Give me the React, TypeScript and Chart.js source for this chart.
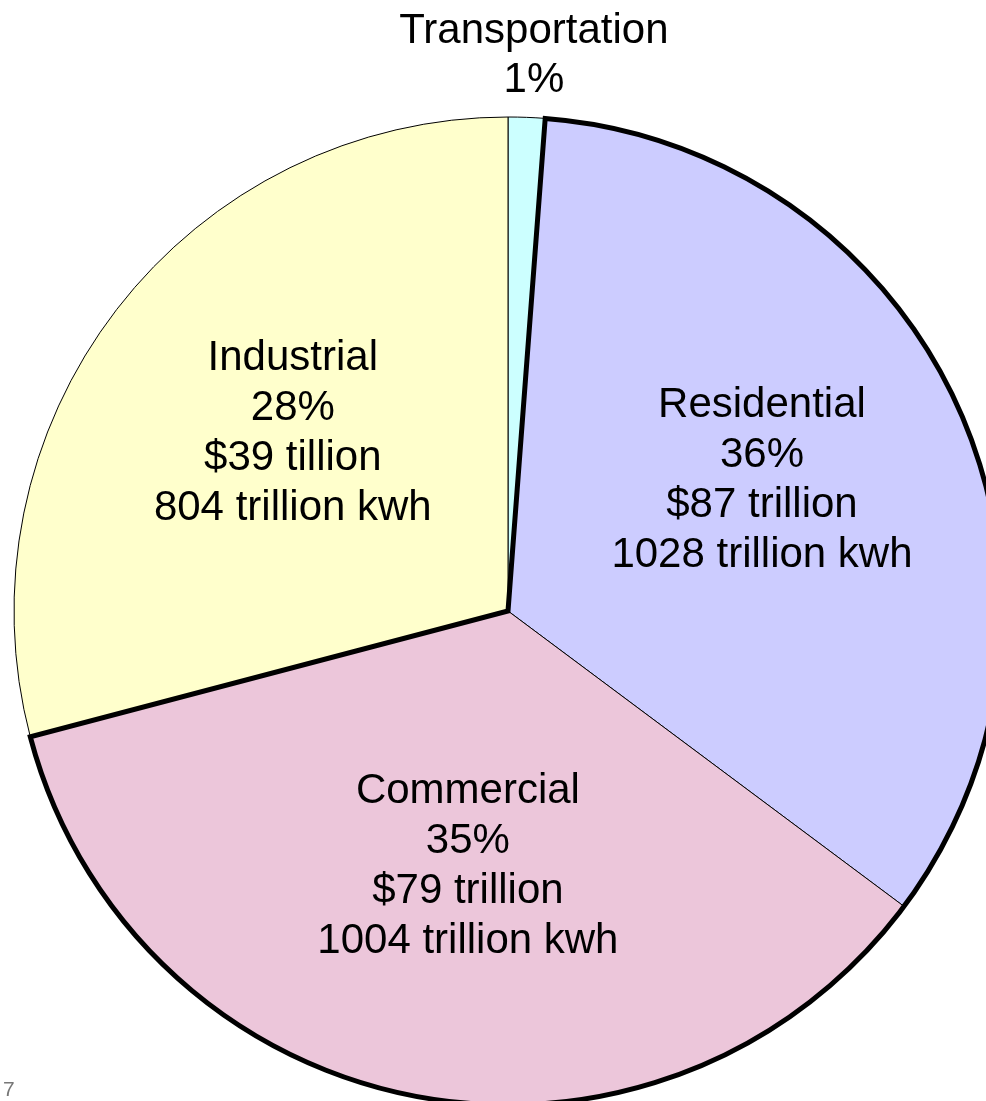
import React, { useEffect, useRef } from "react";
import { Chart, registerables } from "chart.js";

Chart.register(...registerables);

// ---- data ----
const categories = ["Transportation", "Residential", "Commercial", "Industrial"];
// slice shares as drawn in the picture (percent of the full circle)
const sliceShares = [1.2, 34.0, 35.7, 29.1];
const percentLabels = ["1%", "36%", "35%", "28%"];
const costLabels = ["", "$87 trillion", "$79 trillion", "$39 tillion"];
const energyLabels = ["", "1028 trillion kwh", "1004 trillion kwh", "804 trillion kwh"];

// ---- styling / layout ----
const sliceColors = ["#CCFFFF", "#CCCCFF", "#ECC6DA", "#FFFFCC"];
const labelRadialFraction = [1.129, 0.58, 0.52, 0.568];
const labelAngleShiftDeg = [0.5, -3.1, -2.0, 2.3];

const CANVAS_W = 1016;
const CANVAS_H = 1222;
const RADIUS = 494;

const labelPlugin = {
  id: "sliceLabels",
  afterDatasetsDraw(chart: any) {
    const meta = chart.getDatasetMeta(0);
    const ctx = chart.ctx as CanvasRenderingContext2D;
    const res = meta.data[1];
    const com = meta.data[2];
    const { x, y, outerRadius } = res.getProps(["x", "y", "outerRadius"], true);
    ctx.save();
    // thick outline around residential + commercial block
    ctx.beginPath();
    ctx.moveTo(x, y);
    ctx.arc(x, y, outerRadius, res.startAngle, com.endAngle);
    ctx.closePath();
    ctx.lineWidth = 5;
    ctx.strokeStyle = "#000";
    ctx.lineJoin = "miter";
    ctx.stroke();

    // labels
    ctx.font = '42px "Liberation Sans", Arial, sans-serif';
    ctx.textAlign = "center";
    ctx.textBaseline = "middle";
    ctx.fillStyle = "#000";
    meta.data.forEach((arc: any, i: number) => {
      const lines = [categories[i], percentLabels[i], costLabels[i], energyLabels[i]].filter(Boolean);
      const mid = (arc.startAngle + arc.endAngle) / 2 + (labelAngleShiftDeg[i] * Math.PI) / 180;
      const r = outerRadius * labelRadialFraction[i];
      const cx = x + r * Math.cos(mid);
      const cy = y + r * Math.sin(mid) + 2;
      const lh = i === 0 ? 49 : 50;
      lines.forEach((t, j) => {
        ctx.fillText(t, cx, cy + (j - (lines.length - 1) / 2) * lh);
      });
    });
    ctx.restore();
  },
};

export default function App() {
  const canvasRef = useRef<HTMLCanvasElement | null>(null);

  useEffect(() => {
    if (!canvasRef.current) return;
    const chart = new Chart(canvasRef.current, {
      type: "pie",
      data: {
        labels: categories,
        datasets: [
          {
            data: sliceShares,
            backgroundColor: sliceColors,
            borderColor: "#000",
            borderWidth: 1,
          },
        ],
      },
      options: {
        responsive: false,
        animation: false,
        devicePixelRatio: 1,
        radius: RADIUS,
        layout: { padding: 0 },
        events: [],
        plugins: {
          legend: { display: false },
          tooltip: { enabled: false },
          title: { display: false },
        },
      } as any,
      plugins: [labelPlugin],
    });
    return () => chart.destroy();
  }, []);

  return (
    <div
      style={{
        position: "fixed",
        left: 0,
        top: 0,
        width: 986,
        height: 1101,
        overflow: "hidden",
        background: "#fff",
      }}
    >
      <canvas
        ref={canvasRef}
        width={CANVAS_W}
        height={CANVAS_H}
        style={{ position: "absolute", left: 0, top: 0, width: CANVAS_W, height: CANVAS_H }}
      />
      <div
        style={{
          position: "absolute",
          left: 3,
          top: 1077,
          fontFamily: '"Liberation Sans", Arial, sans-serif',
          fontSize: 21,
          lineHeight: "24px",
          color: "#777",
        }}
      >
        7
      </div>
    </div>
  );
}
